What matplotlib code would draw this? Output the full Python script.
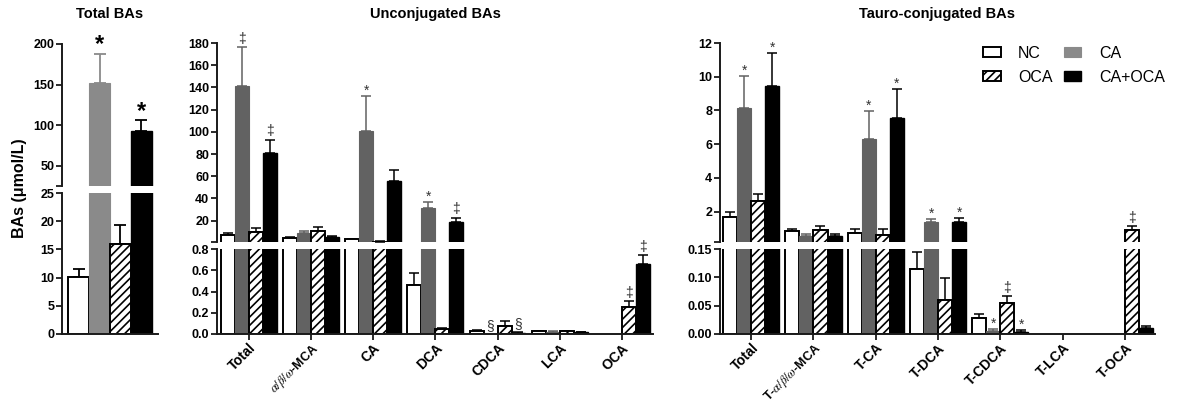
import numpy as np
import matplotlib
matplotlib.use("Agg")
import matplotlib.pyplot as plt
from matplotlib.patches import Patch

plt.rcParams['font.family'] = ['Liberation Sans', 'DejaVu Sans']
plt.rcParams['mathtext.fontset'] = 'stix'
plt.rcParams['hatch.linewidth'] = 1.2

# ---------------- data ----------------
series = ['NC', 'CA', 'OCA', 'CA+OCA']

total_vals = [10.1, 152.0, 16.0, 93.0]
total_err = [1.5, 36.0, 3.4, 13.0]
total_marks = [(0, 1, '*'), (0, 3, '*')]

unconj_groups = ['Total', r'$\alpha/\beta/\omega$-MCA', 'CA', 'DCA', 'CDCA', 'LCA', 'OCA']
unconj_NC = [7.0, 4.8, 3.3, 0.46, 0.025, 0.025, 0.0]
unconj_NC_err = [2.0, 0.6, 0.5, 0.11, 0.01, 0.005, 0.0]
unconj_CA = [141.4, 8.7, 100.6, 31.0, 0.0, 0.02, 0.0]
unconj_CA_err = [35.0, 2.3, 31.5, 5.7, 0.0, 0.005, 0.0]
unconj_OCA = [9.5, 10.7, 1.2, 0.044, 0.078, 0.025, 0.25]
unconj_OCA_err = [4.2, 3.3, 0.3, 0.011, 0.04, 0.005, 0.06]
unconj_CAOCA = [81.0, 5.7, 55.5, 18.5, 0.01, 0.018, 0.66]
unconj_CAOCA_err = [12.0, 0.5, 10.0, 4.2, 0.005, 0.004, 0.08]
unconj_marks = [(0, 1, '‡'), (0, 3, '‡'), (2, 1, '*'), (3, 1, '*'), (3, 3, '‡'),
                (4, 1, '§'), (4, 3, '§'), (6, 2, '‡'), (6, 3, '‡')]

tauro_groups = ['Total', r'T-$\alpha/\beta/\omega$-MCA', 'T-CA', 'T-DCA', 'T-CDCA', 'T-LCA', 'T-OCA']
tauro_NC = [1.68, 0.83, 0.73, 0.114, 0.029, 0.0, 0.0]
tauro_NC_err = [0.32, 0.17, 0.24, 0.031, 0.007, 0.0, 0.0]
tauro_CA = [8.14, 0.57, 6.3, 1.36, 0.005, 0.0, 0.0]
tauro_CA_err = [1.92, 0.13, 1.68, 0.2, 0.003, 0.0, 0.0]
tauro_OCA = [2.61, 0.93, 0.63, 0.06, 0.054, 0.0, 0.93]
tauro_OCA_err = [0.44, 0.2, 0.35, 0.038, 0.013, 0.0, 0.2]
tauro_CAOCA = [9.47, 0.53, 7.55, 1.36, 0.003, 0.0, 0.011]
tauro_CAOCA_err = [1.93, 0.12, 1.72, 0.26, 0.0035, 0.0, 0.004]
tauro_marks = [(0, 1, '*'), (0, 3, '*'), (2, 1, '*'), (2, 3, '*'), (3, 1, '*'), (3, 3, '*'),
               (4, 1, '*'), (4, 2, '‡'), (4, 3, '*'), (6, 2, '‡')]

# ---------------- layout ----------------
W, H = 1180, 405
fig = plt.figure(figsize=(W / 100, H / 100), dpi=100)


def add_ax(x0, x1, y0, y1):
    return fig.add_axes([x0 / W, 1 - y1 / H, (x1 - x0) / W, (y1 - y0) / H])


GRAY_LIGHT = '#8a8a8a'
GRAY_DARK = '#626262'
AXC = '#1a1a1a'


def styles(gray):
    return [dict(facecolor='white', edgecolor='black', linewidth=1.4),
            dict(facecolor=gray, edgecolor=gray, linewidth=0.8),
            dict(facecolor='white', edgecolor='black', hatch='////', linewidth=1.4),
            dict(facecolor='black', edgecolor='black', linewidth=1.0)]


def style_axes(ax, is_top, yticks, ylabels, tick_fs=9):
    for s in ['right', 'top']:
        ax.spines[s].set_visible(False)
    ax.spines['left'].set_linewidth(1.4)
    ax.spines['left'].set_color(AXC)
    ax.spines['bottom'].set_linewidth(1.4)
    ax.spines['bottom'].set_color(AXC)
    if is_top:
        ax.spines['bottom'].set_visible(False)
        ax.tick_params(axis='x', bottom=False, labelbottom=False)
    ax.set_yticks(yticks)
    ax.set_yticklabels(ylabels, fontsize=tick_fs, fontweight='bold')
    ax.tick_params(axis='y', direction='out', length=4, width=1.3, color=AXC, pad=1.5)
    ax.patch.set_visible(False)


def draw_panel(axes, xpos, vals, errs, width, gray, err_lw=1.2, capsize=3.5):
    st = styles(gray)
    ecol = ['black', gray, 'black', 'black']
    for ax in axes:
        lo, hi = ax.get_ylim()
        for i in range(4):
            v = np.array(vals[i], dtype=float)
            e = np.array(errs[i], dtype=float)
            x = np.array(xpos[i], dtype=float)
            show = v > lo
            if show.any():
                ax.bar(x[show], v[show], width=width, zorder=2, **st[i])
            top = v + e
            m = (e > 0) & (top > lo) & (top <= hi)
            if m.any():
                ax.errorbar(x[m], v[m], yerr=[np.zeros(m.sum()), e[m]],
                            fmt='none', ecolor=ecol[i], elinewidth=err_lw,
                            capsize=capsize, capthick=err_lw, zorder=1)


def add_marks(top, bot, bot_max, xpos, vals, errs, marks, fs, color, dy=1):
    for g, s, sym in marks:
        x = xpos[s][g]
        y = vals[s][g] + errs[s][g]
        ax = top if y > bot_max else bot
        if sym == '*':
            off = dy - fs * 0.22
        else:
            off = dy
        ax.annotate(sym, (x, y), xytext=(0, off), textcoords='offset points',
                    ha='center', va='bottom', fontsize=fs, color=color,
                    fontweight='bold' if fs > 12 else 'normal', annotation_clip=False)


# ---- Panel 1: Total BAs ----
t1 = add_ax(62, 158, 44, 186)
b1 = add_ax(62, 158, 193, 334)
t1.set_ylim(25, 200)
b1.set_ylim(0, 25)
x1 = np.arange(4)
vals1 = [[v] for v in total_vals]
errs1 = [[e] for e in total_err]
xp1 = [[x] for x in x1]
draw_panel([t1, b1], xp1, vals1, errs1, 1.0, GRAY_LIGHT, err_lw=1.3, capsize=4.5)
for ax in (t1, b1):
    ax.set_xlim(-0.79, 3.79)
style_axes(t1, True, [25, 50, 100, 150, 200], ['', '50', '100', '150', '200'])
style_axes(b1, False, [0, 5, 10, 15, 20, 25], ['0', '5', '10', '15', '20', '25'])
b1.set_xticks([])
add_marks(t1, b1, 25, xp1, vals1, errs1, total_marks, 17, 'black', dy=2)

# ---- Panels 2 & 3 ----
w = 0.225
offs = np.array([-1.5, -0.5, 0.5, 1.5]) * w


def grouped(x0, x1_, groups, vals, errs, marks, top_lim, top_ticks, top_labels,
            bot_lim, bot_ticks, bot_labels, xlim):
    top = add_ax(x0, x1_, 43, 242)
    bot = add_ax(x0, x1_, 249, 334)
    top.set_ylim(*top_lim)
    bot.set_ylim(*bot_lim)
    gx = np.arange(len(groups))
    xp = [gx + o for o in offs]
    draw_panel([top, bot], xp, vals, errs, w, GRAY_DARK, err_lw=1.1, capsize=3.5)
    for ax in (top, bot):
        ax.set_xlim(*xlim)
    style_axes(top, True, top_ticks, top_labels)
    style_axes(bot, False, bot_ticks, bot_labels)
    bot.set_xticks(gx)
    tls = bot.set_xticklabels(groups, rotation=45, ha='right', rotation_mode='anchor',
                              fontsize=10, fontweight='bold')
    for t in tls:
        if len(t.get_text()) > 20:
            t.set_fontsize(9)
    bot.tick_params(axis='x', direction='out', length=4, width=1.3, color=AXC, pad=1)
    add_marks(top, bot, bot_lim[1], xp, vals, errs, marks, 10, '#333333', dy=1)
    return top, bot


grouped(217, 653, unconj_groups,
        [unconj_NC, unconj_CA, unconj_OCA, unconj_CAOCA],
        [unconj_NC_err, unconj_CA_err, unconj_OCA_err, unconj_CAOCA_err],
        unconj_marks,
        (0.8, 180), [0.8] + list(range(20, 181, 20)), [''] + [str(v) for v in range(20, 181, 20)],
        (0, 0.8), [0, 0.2, 0.4, 0.6, 0.8], ['0.0', '0.2', '0.4', '0.6', '0.8'],
        (-0.51, 6.5))

grouped(720, 1155, tauro_groups,
        [tauro_NC, tauro_CA, tauro_OCA, tauro_CAOCA],
        [tauro_NC_err, tauro_CA_err, tauro_OCA_err, tauro_CAOCA_err],
        tauro_marks,
        (0.2, 12), [0.2, 2, 4, 6, 8, 10, 12], ['', '2', '4', '6', '8', '10', '12'],
        (0, 0.15), [0, 0.05, 0.10, 0.15], ['0.00', '0.05', '0.10', '0.15'],
        (-0.5, 6.48))

# ---- titles / labels ----
fig.text(110 / W, 1 - 14 / H, 'Total BAs', ha='center', va='center', fontsize=10.5, fontweight='bold')
fig.text(435 / W, 1 - 14 / H, 'Unconjugated BAs', ha='center', va='center', fontsize=10.5, fontweight='bold')
fig.text(937 / W, 1 - 14 / H, 'Tauro-conjugated BAs', ha='center', va='center', fontsize=10.5, fontweight='bold')
fig.text(20 / W, 1 - 188 / H, 'BAs (μmol/L)', rotation=90, ha='center', va='center',
         fontsize=11.5, fontweight='bold')

# ---- legend ----
lst = styles(GRAY_LIGHT)
handles = [Patch(**lst[0]), Patch(**lst[2]), Patch(**lst[1]), Patch(**lst[3])]
labels = ['NC', 'OCA', 'CA', 'CA+OCA']
fig.legend(handles, labels, ncol=2, loc='upper left', bbox_to_anchor=(983 / W, 1 - 46 / H),
           frameon=False, fontsize=11.5, handlelength=1.1, handleheight=0.6,
           handletextpad=1.1, columnspacing=0.7, labelspacing=0.55, borderpad=0,
           borderaxespad=0)

fig.savefig('out.png', dpi=100)
